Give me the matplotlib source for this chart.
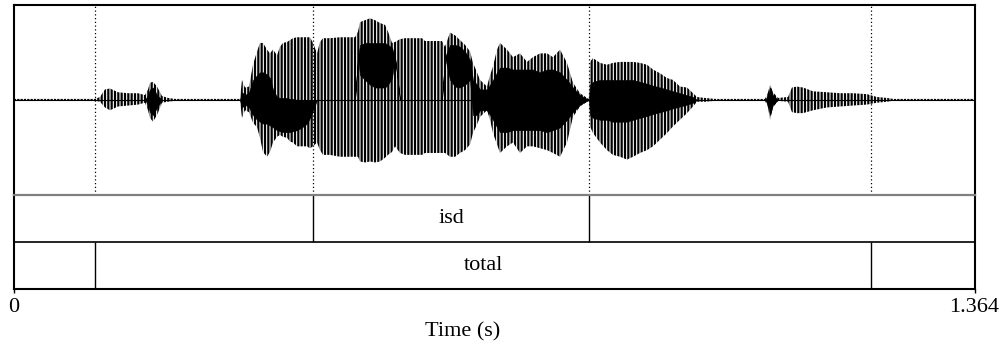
import numpy as np
import matplotlib
matplotlib.use("Agg")
import matplotlib.pyplot as plt

plt.rcParams['font.family'] = ['Liberation Serif', 'DejaVu Serif']
plt.rcParams['hatch.linewidth'] = 1.6

duration = 1.364

# waveform envelope (time in s, amplitude -1..1)
wave_t = [0.0000, 0.1079, 0.1150, 0.1221, 0.1292, 0.1363, 0.1477, 0.1619, 0.1761, 0.1860,
          0.1903, 0.1931, 0.1974, 0.2031, 0.2102, 0.2187, 0.2286, 0.3209, 0.3238, 0.3280,
          0.3337, 0.3394, 0.3451, 0.3493, 0.3536, 0.3593, 0.3635, 0.3678, 0.3735, 0.3777,
          0.3820, 0.3877, 0.3919, 0.3962, 0.4019, 0.4090, 0.4161, 0.4203, 0.4246, 0.4303,
          0.4345, 0.4388, 0.4487, 0.4629, 0.4771, 0.4843, 0.4885, 0.4914, 0.4985, 0.5056,
          0.5127, 0.5198, 0.5269, 0.5311, 0.5368, 0.5411, 0.5482, 0.5553, 0.5695, 0.5794,
          0.5837, 0.5979, 0.6078, 0.6121, 0.6192, 0.6263, 0.6334, 0.6405, 0.6476, 0.6518,
          0.6575, 0.6618, 0.6717, 0.6760, 0.6802, 0.6859, 0.6902, 0.7001, 0.7086, 0.7186,
          0.7285, 0.7370, 0.7470, 0.7569, 0.7654, 0.7754, 0.7853, 0.7938, 0.8038, 0.8137,
          0.8166, 0.8180, 0.8222, 0.8322, 0.8421, 0.8506, 0.8606, 0.8705, 0.8790, 0.8890,
          0.8989, 0.9074, 0.9174, 0.9273, 0.9358, 0.9458, 0.9557, 0.9643, 0.9699, 0.9813,
          0.9955, 1.0665, 1.0708, 1.0736, 1.0778, 1.0850, 1.0992, 1.1048, 1.1119, 1.1205,
          1.1347, 1.1545, 1.1730, 1.1915, 1.2113, 1.2255, 1.2397, 1.2483, 1.3640]
wave_top = [0.01, 0.01, 0.01, 0.03, 0.11, 0.12, 0.08, 0.07, 0.07, 0.05,
            0.11, 0.18, 0.19, 0.14, 0.04, 0.02, 0.01, 0.01, 0.21, 0.13,
            0.14, 0.37, 0.51, 0.60, 0.60, 0.53, 0.49, 0.53, 0.47, 0.56,
            0.60, 0.61, 0.63, 0.65, 0.66, 0.66, 0.66, 0.66, 0.60, 0.49,
            0.61, 0.65, 0.65, 0.66, 0.66, 0.66, 0.72, 0.82, 0.84, 0.86,
            0.84, 0.81, 0.79, 0.72, 0.60, 0.61, 0.64, 0.65, 0.65, 0.65,
            0.62, 0.62, 0.62, 0.56, 0.71, 0.68, 0.63, 0.58, 0.51, 0.39,
            0.29, 0.21, 0.14, 0.26, 0.35, 0.53, 0.60, 0.53, 0.45, 0.49,
            0.40, 0.45, 0.49, 0.49, 0.45, 0.53, 0.39, 0.18, 0.07, 0.02,
            0.01, 0.40, 0.44, 0.39, 0.37, 0.39, 0.40, 0.40, 0.40, 0.39,
            0.37, 0.32, 0.28, 0.23, 0.21, 0.14, 0.13, 0.07, 0.03, 0.02,
            0.01, 0.01, 0.08, 0.16, 0.08, 0.02, 0.03, 0.13, 0.14, 0.13,
            0.09, 0.08, 0.07, 0.07, 0.06, 0.03, 0.02, 0.01, 0.01]
wave_bot = [-0.01, -0.01, -0.01, -0.02, -0.08, -0.11, -0.07, -0.06, -0.05, -0.03,
            -0.11, -0.19, -0.23, -0.16, -0.03, -0.02, -0.01, -0.01, -0.19, -0.11,
            -0.13, -0.24, -0.29, -0.40, -0.55, -0.60, -0.55, -0.45, -0.39, -0.37,
            -0.39, -0.40, -0.44, -0.45, -0.49, -0.49, -0.49, -0.51, -0.49, -0.45,
            -0.53, -0.58, -0.58, -0.60, -0.60, -0.60, -0.60, -0.65, -0.66, -0.65,
            -0.66, -0.65, -0.61, -0.58, -0.55, -0.49, -0.56, -0.58, -0.58, -0.58,
            -0.56, -0.56, -0.56, -0.56, -0.60, -0.60, -0.56, -0.53, -0.47, -0.35,
            -0.26, -0.18, -0.11, -0.21, -0.35, -0.47, -0.56, -0.49, -0.45, -0.56,
            -0.49, -0.49, -0.51, -0.53, -0.56, -0.60, -0.45, -0.18, -0.07, -0.02,
            -0.01, -0.28, -0.35, -0.45, -0.53, -0.58, -0.60, -0.63, -0.60, -0.56,
            -0.53, -0.49, -0.42, -0.35, -0.28, -0.21, -0.14, -0.07, -0.02, -0.02,
            -0.01, -0.01, -0.08, -0.21, -0.08, -0.01, -0.02, -0.13, -0.14, -0.14,
            -0.11, -0.08, -0.07, -0.06, -0.05, -0.03, -0.02, -0.01, -0.01]
# dense (solid black) part inside the envelope
core_top = [0, 0, 0, 0, 0, 0, 0, 0, 0, 0,
            0.05, 0.11, 0.13, 0.05, 0, 0, 0, 0, 0.08, 0.05,
            0.08, 0.21, 0.26, 0.29, 0.29, 0.27, 0.23, 0.11, 0.03, 0.02,
            0.02, 0.02, 0.01, 0.01, 0, 0, 0, 0, 0, 0,
            0, 0, 0, 0, 0, 0, 0.45, 0.58, 0.60, 0.60,
            0.60, 0.60, 0.60, 0.58, 0.55, 0.45, 0, 0, 0, 0,
            0, 0, 0, 0.45, 0.58, 0.58, 0.56, 0.51, 0.42, 0.21,
            0.16, 0.11, 0.11, 0.16, 0.21, 0.29, 0.34, 0.34, 0.32, 0.32,
            0.32, 0.32, 0.29, 0.32, 0.32, 0.29, 0.21, 0.13, 0.05, 0.01,
            0, 0.16, 0.19, 0.21, 0.21, 0.21, 0.21, 0.21, 0.21, 0.19,
            0.17, 0.15, 0.13, 0.11, 0.09, 0.07, 0.05, 0.03, 0, 0,
            0, 0, 0.05, 0.13, 0.05, 0, 0, 0, 0, 0,
            0, 0, 0, 0, 0, 0, 0, 0, 0]
core_bot = [0, 0, 0, 0, 0, 0, 0, 0, 0, 0,
            -0.05, -0.13, -0.16, -0.08, 0, 0, 0, 0, -0.08, -0.05,
            -0.08, -0.16, -0.21, -0.23, -0.25, -0.25, -0.27, -0.29, -0.32, -0.33,
            -0.34, -0.34, -0.34, -0.33, -0.32, -0.29, -0.25, -0.19, -0.11, 0,
            0, 0, 0, 0, 0, 0, 0.45, 0.26, 0.21, 0.16,
            0.13, 0.13, 0.13, 0.16, 0.23, 0.45, 0, 0, 0, 0,
            0, 0, 0, 0.45, 0.21, 0.14, 0.13, 0.16, 0.21, -0.16,
            -0.16, -0.11, -0.11, -0.16, -0.21, -0.29, -0.34, -0.34, -0.32, -0.32,
            -0.32, -0.32, -0.32, -0.34, -0.32, -0.29, -0.21, -0.13, -0.05, -0.01,
            0, -0.16, -0.19, -0.21, -0.21, -0.23, -0.23, -0.23, -0.21, -0.19,
            -0.17, -0.15, -0.13, -0.11, -0.09, -0.07, -0.05, -0.03, 0, 0,
            0, 0, -0.05, -0.16, -0.05, 0, 0, 0, 0, 0,
            0, 0, 0, 0, 0, 0, 0, 0, 0]

# TextGrid tiers
isd_bounds = [0.4253, 0.8166]
isd_labels = ["", "isd", ""]
total_bounds = [0.1150, 1.2171]
total_labels = ["", "total", ""]

W, H = 1002, 350
fig = plt.figure(figsize=(W / 100, H / 100), dpi=100)
left = 14 / W
width = (974.5 - 14) / W
y_top, y_mid, y_bot = 5, 194.7, 289

ax_w = fig.add_axes([left, 1 - y_mid / H, width, (y_mid - y_top) / H])
ax_g = fig.add_axes([left, 1 - y_bot / H, width, (y_bot - y_mid) / H])

# waveform
ax_w.fill_between(wave_t, wave_top, wave_bot, facecolor='none', edgecolor='black',
                  hatch='|||||', linewidth=0)
ax_w.fill_between(wave_t, core_top, core_bot, facecolor='black', linewidth=0.4,
                  edgecolor='black')
ax_w.axhline(0, color='black', lw=0.8)
for b in isd_bounds + total_bounds:
    ax_w.axvline(b, color='black', lw=0.9, ls=(0, (1, 2)))
ax_w.set_xlim(0, duration)
ax_w.set_ylim(-1, 1)
ax_w.set_xticks([])
ax_w.set_yticks([])
for s in ['top', 'left', 'right']:
    ax_w.spines[s].set_linewidth(1.5)
ax_w.spines['bottom'].set_visible(False)

# tiers
ax_g.set_xlim(0, duration)
ax_g.set_ylim(0, 2)
ax_g.axhline(1, color='black', lw=1.2)
ax_g.vlines(isd_bounds, 1, 2, color='black', lw=1)
ax_g.vlines(total_bounds, 0, 1, color='black', lw=1)

def tier_text(bounds, labels, yc):
    edges = [0] + bounds + [duration]
    for i, lab in enumerate(labels):
        if lab:
            ax_g.text((edges[i] + edges[i + 1]) / 2, yc, lab, ha='center', va='center',
                      fontsize=16)

tier_text(isd_bounds, isd_labels, 1.5)
tier_text(total_bounds, total_labels, 0.5)

ax_g.set_yticks([])
ax_g.set_xticks([0, duration])
ax_g.set_xticklabels(["0", "1.364"], fontsize=16)
ax_g.tick_params(axis='x', direction='out', length=3, width=1, pad=3.5)
for s in ['left', 'right', 'bottom']:
    ax_g.spines[s].set_linewidth(1.5)
ax_g.spines['top'].set_color('#808080')
ax_g.spines['top'].set_linewidth(1.6)

fig.text(463 / W, 1 - 332 / H, "Time (s)", ha='center', va='center', fontsize=16)

fig.savefig("out.png", dpi=100)
